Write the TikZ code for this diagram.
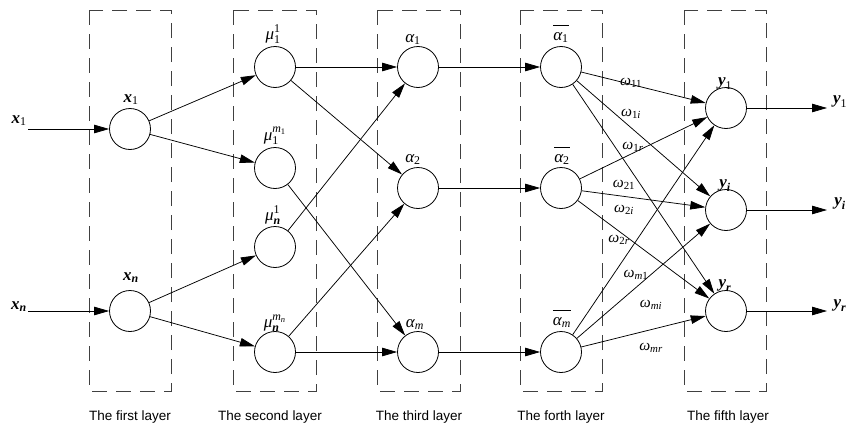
\documentclass[tikz,border=0pt]{standalone}
\usepackage{amsmath}
\usepackage{fontspec}
\setmainfont{Liberation Serif}
\setsansfont{Liberation Sans}
\usetikzlibrary{arrows.meta,calc}

% text-font symbols inside math
\newcommand{\ti}[1]{\text{\itshape #1}}
\newcommand{\tu}[1]{\text{\upshape #1}}
\newcommand{\tb}[1]{\text{\bfseries\itshape #1}}
\newcommand{\abar}[1]{\overline{\rule{0pt}{12pt}\ti{α}_{#1}}}

\begin{document}
\begin{tikzpicture}[x=1pt,y=-1pt,
  neuron/.style={circle, draw, minimum size=41pt, inner sep=0pt, line width=0.8pt},
  layerbox/.style={draw=black!75, dash pattern=on 15pt off 9pt, line width=0.8pt},
  conn/.style={-{Triangle[length=15pt,width=8.5pt]}, line width=0.75pt},
  lab/.style={inner sep=0pt, anchor=base, font=\fontsize{17}{19}\selectfont},
  wlab/.style={inner sep=0pt, anchor=base, font=\fontsize{15.5}{17}\selectfont},
  caption/.style={inner sep=0pt, anchor=base, font=\fontsize{13.5}{15}\selectfont\sffamily}]

\useasboundingbox (0,0) rectangle (851,423);

% layer frames
\draw[layerbox] (89,10) rectangle (171,391);
\draw[layerbox] (233,10) rectangle (316,391);
\draw[layerbox] (377,10) rectangle (460,391);
\draw[layerbox] (520,10) rectangle (602,391);
\draw[layerbox] (684,10) rectangle (766,391);

% layer 1
\node[neuron] (x1) at (130,129) {};
\node[neuron] (xn) at (130,311) {};
% layer 2
\node[neuron] (m11) at (275,67) {};
\node[neuron] (m1m) at (275,168) {};
\node[neuron] (mn1) at (275,247) {};
\node[neuron] (mnm) at (275,352) {};
% layer 3
\node[neuron] (a1) at (418,67) {};
\node[neuron] (a2) at (418,188) {};
\node[neuron] (am) at (418,352) {};
% layer 4
\node[neuron] (b1) at (561,67) {};
\node[neuron] (b2) at (561,188) {};
\node[neuron] (bm) at (561,352) {};
% layer 5
\node[neuron] (y1) at (726,108) {};
\node[neuron] (yi) at (726,210) {};
\node[neuron] (yr) at (726,311) {};

% free ends of inputs and outputs
\coordinate (in1) at (28,129);
\coordinate (inn) at (28,311);
\coordinate (out1) at (827,108);
\coordinate (outi) at (827,210);
\coordinate (outr) at (827,311);

% node captions
\node[lab] (x1t) at (131,102) {$\tb{x}_{\tu{1}}$};
\node[lab] (xnt) at (131,280) {$\tb{x}_{\tb{n}}$};
\node[lab] (m11t) at (273,39) {$\ti{μ}_{\tu{1}}^{\tu{1}}$};
\node[lab] (m1mt) at (275,140) {$\ti{μ}_{\tu{1}}^{\ti{m}_{\tu{1}}}$};
\node[lab] (mn1t) at (273,220) {$\ti{μ}_{\tb{n}}^{\tu{1}}$};
\node[lab] (mnmt) at (275,327) {$\ti{μ}_{\tb{n}}^{\ti{m}_{\ti{n}}}$};
\node[lab] (a1t) at (413,42) {$\ti{α}_{\tu{1}}$};
\node[lab] (a2t) at (413,162) {$\ti{α}_{\tu{2}}$};
\node[lab] (amt) at (415,327) {$\ti{α}_{\ti{m}}$};
\node[lab] (b1t) at (561,40) {$\abar{\tu{1}}$};
\node[lab] (b2t) at (562,162) {$\abar{\tu{2}}$};
\node[lab] (bmt) at (562,325) {$\abar{\ti{m}}$};
\node[lab] (y1t) at (725,85) {$\tb{y}_{\tu{1}}$};
\node[lab] (yit) at (725,187) {$\tb{y}_{\tb{i}}$};
\node[lab] (yrt) at (725,287) {$\tb{y}_{\tb{r}}$};

% input and output captions
\node[lab] (in1t) at (19,123) {$\tb{x}_{\tu{1}}$};
\node[lab] (innt) at (19,309) {$\tb{x}_{\tb{n}}$};
\node[lab] (out1t) at (840,103) {$\tb{y}_{\tu{1}}$};
\node[lab] (outit) at (840,205) {$\tb{y}_{\tb{i}}$};
\node[lab] (outrt) at (840,307) {$\tb{y}_{\tb{r}}$};

% inputs and outputs
\draw[conn] (in1) -- (x1);
\draw[conn] (inn) -- (xn);
\draw[conn] (y1) -- (out1);
\draw[conn] (yi) -- (outi);
\draw[conn] (yr) -- (outr);

% layer 1 -> layer 2
\draw[conn] (x1) -- (m11);
\draw[conn] (x1) -- (m1m);
\draw[conn] (xn) -- (mn1);
\draw[conn] (xn) -- (mnm);

% layer 2 -> layer 3
\draw[conn] (m11) -- (a1);
\draw[conn] (m11) -- (a2);
\draw[conn] (m1m) -- (am);
\draw[conn] (mn1) -- (a1);
\draw[conn] (mnm) -- (a2);
\draw[conn] (mnm) -- (am);

% layer 3 -> layer 4
\draw[conn] (a1) -- (b1);
\draw[conn] (a2) -- (b2);
\draw[conn] (am) -- (bm);

% layer 4 -> layer 5
\foreach \s in {b1,b2,bm}
  \foreach \t in {y1,yi,yr}
    \draw[conn] (\s) -- (\t);

% weights
\node[wlab] (w11) at (631,85) {$\ti{ω}_{\tu{11}}$};
\node[wlab] (w1i) at (631,116) {$\ti{ω}_{\tu{1}\ti{i}}$};
\node[wlab] (w1r) at (633,149) {$\ti{ω}_{\tu{1}\ti{r}}$};
\node[wlab] (w21) at (624,187) {$\ti{ω}_{\tu{21}}$};
\node[wlab] (w2i) at (624,212) {$\ti{ω}_{\tu{2}\ti{i}}$};
\node[wlab] (w2r) at (619,242) {$\ti{ω}_{\tu{2}\ti{r}}$};
\node[wlab] (wm1) at (636,277) {$\ti{ω}_{\ti{m}\tu{1}}$};
\node[wlab] (wmi) at (651,307) {$\ti{ω}_{\ti{mi}}$};
\node[wlab] (wmr) at (651,350) {$\ti{ω}_{\ti{mr}}$};

% layer names
\node[caption] (c1) at (130,420) {The first layer};
\node[caption] (c2) at (270,420) {The second layer};
\node[caption] (c3) at (419,420) {The third layer};
\node[caption] (c4) at (561,420) {The forth layer};
\node[caption] (c5) at (728,420) {The fifth layer};
\end{tikzpicture}
\end{document}
